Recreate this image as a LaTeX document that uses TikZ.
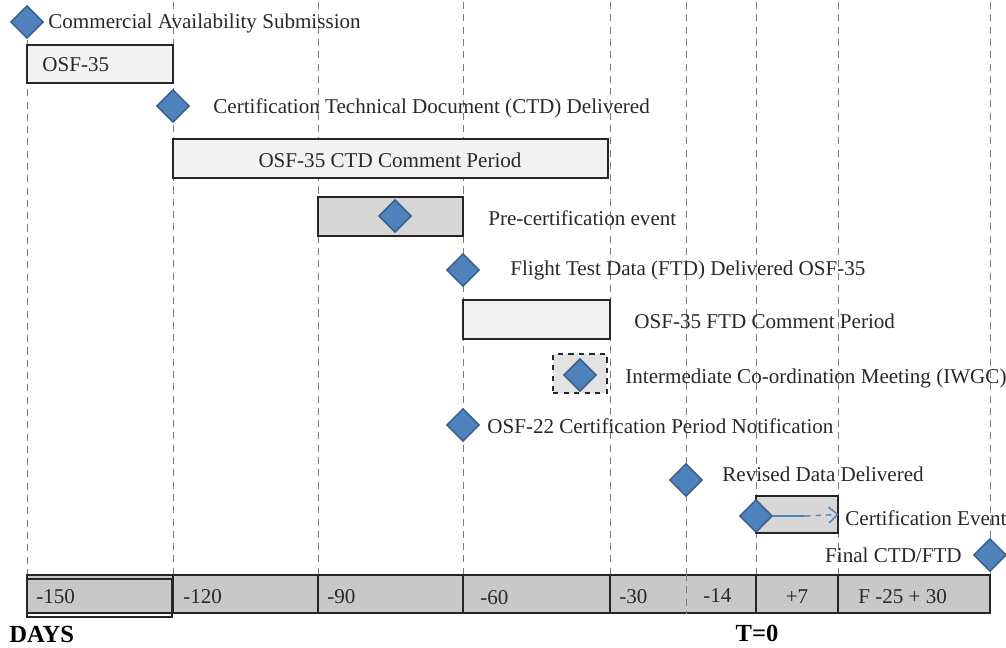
\documentclass[tikz,border=0pt]{standalone}
\usepackage{fontspec}
\setmainfont{Liberation Serif}
\usetikzlibrary{shapes.geometric, arrows.meta, positioning, fit, backgrounds}
\definecolor{msblue}{RGB}{79,129,189}
\definecolor{msedge}{RGB}{56,93,138}
\definecolor{lightfill}{RGB}{242,242,242}
\definecolor{midfill}{RGB}{215,215,215}
\definecolor{barfill}{RGB}{200,200,200}
\definecolor{guidegray}{RGB}{125,125,125}
\definecolor{textgray}{RGB}{40,40,40}

\begin{document}
\begin{tikzpicture}[
    x=0.02cm, y=-0.02cm,
    milestone/.style={diamond, draw=msedge, thick, fill=msblue, minimum width=0.66cm, minimum height=0.66cm, inner sep=0pt},
    phase/.style={draw=black!85, thick, fill=lightfill, inner sep=0pt},
    segment/.style={draw=black!85, very thick, fill=barfill, inner sep=0pt},
    lbl/.style={anchor=west, inner sep=0pt, text=textgray, font=\fontsize{12}{14}\selectfont},
    guide/.style={guidegray, dash pattern=on 4pt off 3pt, thin}
]
    \useasboundingbox (0,0) rectangle (1006,647);

    % day guides
    \begin{scope}[on background layer]
        \foreach \gx in {173,318,463,610,756,838,990}
            \draw[guide] (\gx,2) -- (\gx,575);
        \draw[guide] (27,40) -- (27,575);
        \draw[guide] (686,2) -- (686,575);
    \end{scope}

    % periods
    \node[phase, fit={(27,45) (173,83)}] (osf35) {};
    \node[lbl] at (42,65) {OSF-35};
    \node[phase, fit={(173,139) (608,178)}] (ctdper) {};
    \node[lbl, anchor=center] at (390,160) {OSF-35 CTD Comment Period};
    \node[phase, fill=midfill, fit={(318,197) (463,236)}] (precert) {};
    \node[phase, fit={(463,300) (610,339)}] (ftdper) {};
    \node[lbl] at (634,321) {OSF-35 FTD Comment Period};
    \node[phase, dashed, fill=midfill!70, fit={(553,354) (607,393)}] (iwgc) {};
    \node[phase, fill=midfill, fit={(756,496) (838,533)}] (certbox) {};

    % milestones
    \node[milestone] (cas) at (27,22) {};
    \node[lbl] at (48,23) {Commercial Availability Submission};
    \node[milestone] (ctd) at (173,106) {};
    \node[lbl] at (213,108) {Certification Technical Document (CTD) Delivered};
    \node[milestone] (pce) at (395,216) {};
    \node[lbl] at (488,218) {Pre-certification event};
    \node[milestone] (ftd) at (463,270) {};
    \node[lbl] at (510,270) {Flight Test Data (FTD) Delivered OSF-35};
    \node[milestone] (icm) at (580,375) {};
    \node[lbl] at (625,378) {Intermediate Co-ordination Meeting (IWGC)};
    \node[milestone] (osf22) at (463,425) {};
    \node[lbl] at (487,426) {OSF-22 Certification Period Notification};
    \node[milestone] (rdd) at (686,480) {};
    \node[lbl] at (722,474) {Revised Data Delivered};
    \node[milestone] (cev) at (756,516) {};
    \node[lbl] at (845,518) {Certification Event};
    \node[milestone] (fin) at (990,555) {};
    \node[lbl, anchor=east] at (962,555) {Final CTD/FTD};

    \coordinate (cemid) at (805,516);
    \draw[msblue, thick] (cev.east) -- (cemid);
    \draw[msblue, thick, dashed, -{Straight Barb[length=5pt, width=9pt]}] (cemid) -- (certbox.east);

    % day bar
    \node[segment, fit={(27,575) (173,613)}] (s150) {};
    \node[segment, fit={(173,575) (318,613)}] (s120) {};
    \node[segment, fit={(318,575) (463,613)}] (s90) {};
    \node[segment, fit={(463,575) (610,613)}] (s60) {};
    \node[segment, fit={(610,575) (756,613)}] (s30) {};
    \node[segment, fit={(756,575) (838,613)}] (s7) {};
    \node[segment, fit={(838,575) (990,613)}] (sf) {};
    \draw[black!85, very thick] (27,579) rectangle (172,617);
    \draw[guide] (s30.north -| 686,0) -- (s30.south -| 686,0);

    \node[lbl] at (36,597) {-150};
    \node[lbl] at (183,597) {-120};
    \node[lbl] at (327,597) {-90};
    \node[lbl] at (480,598) {-60};
    \node[lbl] at (619,597) {-30};
    \node[lbl] at (703,596) {-14};
    \node[lbl, anchor=center] at (797,597) {+7};
    \node[lbl] at (858,597) {F -25 + 30};

    \node[lbl, text=black, font=\fontsize{14}{16}\selectfont\bfseries] at (9,634) {DAYS};
    \node[lbl, anchor=center, text=black, font=\fontsize{14}{16}\selectfont\bfseries] at (757,633) {T=0};
\end{tikzpicture}
\end{document}
